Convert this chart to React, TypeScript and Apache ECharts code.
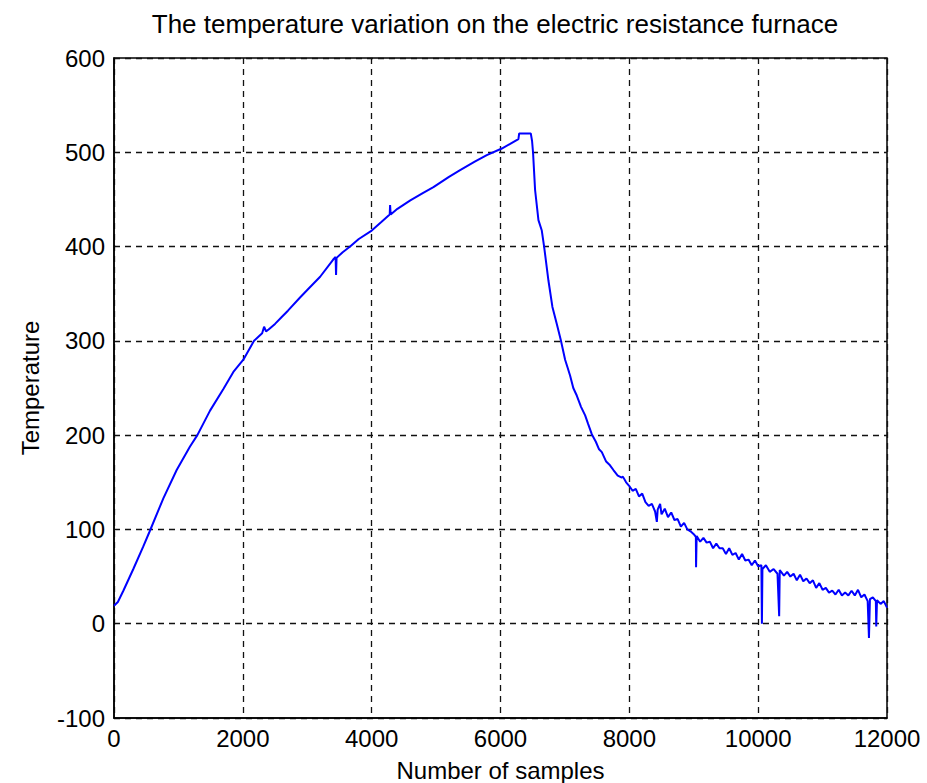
import React, { useEffect, useRef } from "react";
import * as echarts from "echarts";

const chartTitle = "The temperature variation on the electric resistance furnace";
const xAxisName = "Number of samples";
const yAxisName = "Temperature";

// sample index of each reading
const samples: number[] = [
  0, 60, 145, 300, 455, 548, 766, 973, 1180, 1294, 1491, 1698, 1853, 2008, 2174,
  2300, 2330, 2360, 2400, 2500, 2600, 2700, 2888, 3000, 3200, 3400, 3440, 3447, 3455,
  3550, 3665, 3800, 4001, 4150, 4280, 4286, 4295, 4400, 4600, 4800, 4959, 5200, 5373,
  5600, 5787, 6020, 6150, 6278, 6290, 6470, 6490, 6505, 6537, 6589, 6641, 6677, 6744,
  6806, 6874, 6936, 7003, 7040, 7081, 7130, 7184, 7250, 7314, 7360, 7417, 7480, 7530,
  7573, 7640, 7700, 7753, 7820, 7883, 7900, 7950, 8000, 8050, 8100, 8150, 8200, 8250,
  8300, 8350, 8400, 8427, 8440, 8478, 8500, 8550, 8600, 8650, 8700, 8750, 8800, 8850,
  8900, 8950, 9000, 9033, 9036, 9045, 9100, 9150, 9200, 9250, 9300, 9350, 9400, 9450,
  9500, 9550, 9600, 9650, 9700, 9750, 9800, 9850, 9900, 9950, 10000, 10050, 10058,
  10066, 10120, 10180, 10240, 10300, 10326, 10335, 10400, 10450, 10500, 10550, 10600,
  10650, 10700, 10750, 10800, 10850, 10900, 10950, 11000, 11050, 11100, 11150, 11200,
  11250, 11300, 11350, 11400, 11450, 11500, 11550, 11600, 11650, 11700, 11720, 11735,
  11780, 11827, 11833, 11845, 11900, 11950, 12000,
];

// temperature reading at each sample
const temperatures: number[] = [
  19, 23, 35, 58, 82, 97, 133, 163, 188, 200, 226, 249, 267, 280, 300,
  308, 315, 310, 312, 318, 325, 332, 346, 354, 368, 386, 389, 370, 388,
  394, 400, 408, 417, 426, 434, 444, 434, 440, 449, 457, 463, 474, 481,
  490, 497, 504, 509, 514, 520, 520, 512, 500, 460, 428, 417, 400, 364,
  336, 318, 301, 280, 272, 263, 250, 242, 230, 221, 212, 201, 193, 185,
  182, 172, 168, 163, 157, 155, 156, 150, 146, 141, 143, 135, 138, 129,
  125, 127, 119, 108, 121, 127, 116, 122, 113, 118, 110, 111, 103, 107,
  100, 98, 95, 92, 60, 93, 87, 91, 86, 87, 80, 85, 80, 80,
  74, 80, 73, 75, 68, 74, 67, 68, 62, 67, 61, 62, 0,
  58, 62, 55, 58, 53, 8, 57, 51, 55, 50, 53, 46,
  52, 45, 48, 43, 46, 38, 43, 36, 38, 33, 35, 31,
  36, 30, 33, 30, 35, 30, 36, 28, 31, 24, -15, 26,
  28, 24, -3, 25, 21, 24, 17,
];

const xTicks = { min: 0, max: 12000, interval: 2000 };
const yTicks = { min: -100, max: 600, interval: 100 };

export default function App() {
  const ref = useRef<HTMLDivElement>(null);
  useEffect(() => {
    document.body.style.margin = "0";
    if (!ref.current) return;
    const chart = echarts.init(ref.current, null, { renderer: "svg" });
    const font = "Arial, 'Liberation Sans', Helvetica, sans-serif";
    const data = samples.map((s, i) => [s, temperatures[i]]);
    chart.setOption({
      animation: false,
      backgroundColor: "#ffffff",
      grid: {
        left: 114,
        top: 58,
        right: 40,
        bottom: 65,
        containLabel: false,
        outerBoundsMode: "none",
        show: true,
        borderColor: "#000",
        borderWidth: 1.5,
        backgroundColor: "transparent",
      },
      graphic: [
        {
          type: "text",
          x: 495,
          y: 11,
          style: {
            text: chartTitle,
            align: "center",
            verticalAlign: "top",
            font: `26px ${font}`,
            fill: "#000",
          },
        },
      ],
      xAxis: {
        type: "value",
        min: xTicks.min,
        max: xTicks.max,
        interval: xTicks.interval,
        name: xAxisName,
        nameLocation: "middle",
        nameGap: 40,
        nameTextStyle: { fontSize: 24, fontFamily: font, color: "#000" },
        axisLine: { show: true, onZero: false, lineStyle: { color: "#000", width: 1.5 } },
        axisTick: { show: false },
        axisLabel: {
          fontSize: 24,
          fontFamily: font,
          color: "#000",
          margin: 8,
          formatter: (v: number) => String(v),
        },
        splitLine: { show: true, lineStyle: { color: "#111", width: 1.3, type: [6, 5] } },
      },
      yAxis: {
        type: "value",
        min: yTicks.min,
        max: yTicks.max,
        interval: yTicks.interval,
        name: yAxisName,
        nameLocation: "middle",
        nameGap: 72,
        nameTextStyle: { fontSize: 24, fontFamily: font, color: "#000" },
        axisLine: { show: true, onZero: false, lineStyle: { color: "#000", width: 1.5 } },
        axisTick: { show: false },
        axisLabel: {
          fontSize: 24,
          fontFamily: font,
          color: "#000",
          margin: 9,
          formatter: (v: number) => String(v),
        },
        splitLine: { show: true, lineStyle: { color: "#111", width: 1.3, type: [6, 5] } },
      },
      series: [
        {
          type: "line",
          data,
          showSymbol: false,
          symbol: "none",
          lineStyle: { color: "#0000ff", width: 2 },
          itemStyle: { color: "#0000ff" },
        },
      ],
    });
    return () => chart.dispose();
  }, []);
  return <div ref={ref} style={{ width: 927, height: 783 }} />;
}
